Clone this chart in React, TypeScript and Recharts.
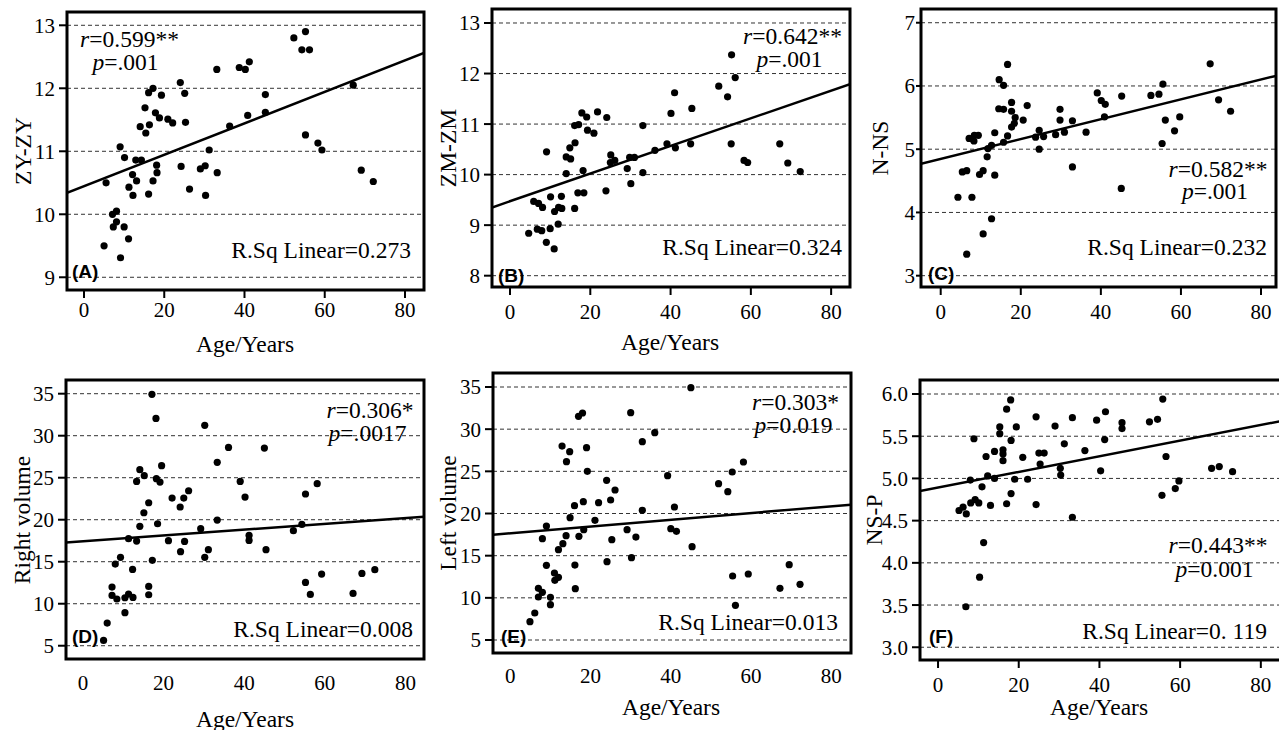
import React from 'react'
import { CartesianGrid, ReferenceArea, ReferenceLine, Scatter, ScatterChart, XAxis, YAxis } from 'recharts'

const ageTicks = [0, 20, 40, 60, 80]

// (A) ZY-ZY
const ageA = [5.5, 5.0, 7.1, 8.1, 7.3, 8.1, 10.0, 11.1, 9.1, 9.0, 10.1, 11.2, 12.2, 12.1, 12.9, 13.1, 14.3, 14.0, 15.2, 15.4, 16.1, 16.3, 16.1, 17.2, 17.2, 18.1, 18.2, 17.8, 18.8, 19.3, 20.9, 22.1, 24.0, 25.1, 25.3, 24.2, 26.3, 29.0, 30.2, 30.3, 31.2, 33.2, 33.1, 36.3, 38.7, 40.2, 41.2, 40.8, 45.2, 45.2, 52.3, 55.2, 54.3, 56.2, 55.2, 58.3, 59.3, 67.1, 69.1, 72.1]
const zyA = [10.5, 9.5, 10.0, 10.05, 9.8, 9.88, 9.8, 9.61, 9.31, 11.07, 10.9, 10.43, 10.3, 10.63, 10.86, 10.53, 10.86, 11.39, 11.69, 11.29, 11.93, 11.42, 10.32, 12.0, 10.53, 10.78, 10.66, 11.61, 11.53, 11.89, 11.51, 11.45, 12.09, 11.92, 11.46, 10.76, 10.4, 10.72, 10.77, 10.3, 11.02, 10.66, 12.3, 11.4, 12.33, 12.3, 12.42, 11.57, 11.9, 11.62, 12.8, 12.9, 12.61, 12.61, 11.26, 11.13, 11.02, 12.05, 10.7, 10.52]
const fitA = [10.34, 12.56]
const ticksA = [9, 10, 11, 12, 13]

// (B) ZM-ZM
const ageB = [4.65, 5.9, 7.1, 8.1, 6.8, 7.9, 9.1, 9.05, 10.0, 10.1, 11.0, 11.1, 12.0, 12.1, 12.9, 12.8, 14.0, 14.0, 14.9, 15.1, 16.1, 17.1, 16.2, 16.1, 16.9, 18.4, 18.2, 17.9, 19.1, 19.3, 20.9, 21.8, 24.1, 23.9, 25.1, 25.0, 26.1, 29.2, 29.8, 31.0, 30.1, 33.1, 33.1, 36.1, 39.1, 40.1, 41.0, 41.2, 45.3, 45.0, 52.0, 54.2, 55.2, 56.1, 55.1, 58.3, 59.2, 67.2, 69.2, 72.3]
const zmB = [8.84, 9.47, 9.43, 9.35, 8.92, 8.89, 10.45, 8.66, 8.93, 9.56, 8.53, 9.27, 9.02, 9.35, 9.33, 9.57, 10.02, 10.35, 10.53, 10.31, 10.97, 10.99, 10.63, 9.33, 9.64, 9.64, 10.08, 11.22, 11.14, 10.88, 10.82, 11.24, 11.13, 9.68, 10.39, 10.24, 10.28, 10.12, 10.34, 10.34, 9.82, 10.97, 10.04, 10.48, 10.61, 11.21, 11.62, 10.53, 11.31, 10.61, 11.75, 11.54, 12.37, 11.92, 10.61, 10.28, 10.24, 10.61, 10.23, 10.06]
const fitB = [9.35, 11.79]
const ticksB = [8, 9, 10, 11, 12, 13]

// (C) N-NS
const ageC = [4.3, 6.5, 5.4, 6.5, 7.8, 7.1, 7.9, 8.4, 8.3, 9.4, 9.7, 10.6, 10.6, 11.6, 11.8, 12.7, 12.7, 13.5, 13.5, 14.6, 14.5, 15.7, 15.7, 15.7, 16.7, 16.7, 17.7, 17.7, 17.7, 18.4, 18.6, 20.6, 21.6, 23.7, 24.6, 24.6, 25.7, 28.7, 29.8, 29.8, 30.9, 32.9, 32.9, 36.3, 39.1, 40.1, 41.1, 40.9, 45.2, 45.1, 52.5, 54.5, 55.5, 56.1, 55.3, 58.4, 59.7, 67.3, 69.4, 72.4]
const nnsC = [4.24, 3.34, 4.64, 4.66, 4.24, 5.17, 5.16, 5.22, 5.13, 5.22, 4.6, 4.66, 3.66, 4.88, 5.01, 5.06, 3.9, 5.26, 4.59, 6.1, 5.64, 6.01, 5.63, 5.11, 5.21, 6.34, 5.74, 5.6, 5.35, 5.41, 5.5, 5.46, 5.69, 5.19, 5.3, 5.0, 5.2, 5.23, 5.63, 5.46, 5.27, 5.45, 4.72, 5.27, 5.89, 5.77, 5.71, 5.51, 5.84, 4.38, 5.85, 5.87, 6.03, 5.46, 5.09, 5.29, 5.51, 6.35, 5.78, 5.6]
const fitC = [4.77, 6.16]
const ticksC = [3, 4, 5, 6, 7]

// (D) Right volume
const ageD = [5.1, 6.0, 7.2, 7.2, 8.4, 8.0, 9.3, 10.4, 10.4, 11.3, 11.3, 12.3, 12.4, 13.3, 13.3, 14.1, 14.1, 15.1, 15.2, 16.3, 16.3, 16.3, 17.1, 17.2, 18.1, 18.2, 19.1, 18.5, 19.5, 21.2, 22.1, 24.1, 25.0, 26.2, 24.2, 25.2, 29.2, 30.2, 30.2, 31.1, 33.3, 33.3, 36.1, 39.0, 40.2, 41.2, 41.2, 45.0, 45.4, 52.2, 54.3, 55.2, 58.1, 55.2, 56.4, 59.2, 67.0, 69.2, 72.4]
const rightD = [5.63, 7.7, 11.98, 10.99, 10.56, 14.72, 15.52, 8.93, 10.71, 11.15, 17.74, 14.08, 10.75, 24.56, 17.46, 19.21, 25.95, 20.83, 25.24, 22.02, 12.06, 11.07, 34.92, 15.16, 32.06, 24.88, 24.48, 19.52, 26.43, 17.5, 22.58, 21.51, 22.58, 23.45, 16.19, 17.42, 18.93, 31.23, 15.52, 16.43, 26.83, 19.96, 28.61, 24.56, 22.7, 18.13, 17.54, 28.53, 16.43, 18.69, 19.44, 23.06, 24.29, 12.54, 11.11, 13.53, 11.23, 13.61, 14.05]
const fitD = [17.3, 20.36]
const ticksDE = [5, 10, 15, 20, 25, 30, 35]

// (E) Left volume
const ageE = [4.9, 6.1, 7.0, 7.0, 8.0, 8.0, 9.0, 9.0, 10.0, 10.0, 11.0, 11.1, 12.0, 12.0, 13.1, 12.9, 13.9, 14.0, 14.8, 14.9, 16.0, 16.1, 16.2, 17.0, 18.0, 17.1, 18.2, 18.3, 19.0, 19.2, 21.1, 22.0, 24.0, 25.0, 26.1, 25.3, 24.1, 29.1, 30.0, 30.2, 31.3, 32.9, 32.9, 36.0, 39.2, 40.0, 41.4, 40.9, 45.0, 45.3, 51.9, 54.2, 55.3, 58.1, 55.4, 56.1, 59.3, 67.2, 69.5, 72.2]
const leftE = [7.17, 8.2, 11.13, 10.1, 10.65, 17.02, 18.52, 13.85, 10.06, 9.19, 12.94, 12.08, 12.43, 15.71, 16.42, 28.0, 17.37, 26.15, 27.33, 19.51, 20.93, 13.89, 11.09, 31.52, 31.92, 17.29, 21.4, 18.08, 27.81, 25.0, 19.19, 21.28, 23.93, 21.6, 22.79, 16.9, 14.29, 18.08, 31.96, 14.76, 17.21, 28.52, 20.38, 29.58, 24.49, 18.2, 17.89, 20.77, 34.92, 16.07, 23.54, 22.59, 24.92, 26.11, 12.59, 9.11, 12.83, 11.13, 13.93, 11.6]
const fitE = [17.49, 21.05]

// (F) NS-P
const ageF = [5.2, 6.2, 7.0, 6.9, 8.0, 8.1, 8.9, 9.2, 10.1, 10.3, 10.9, 11.3, 11.9, 12.3, 13.0, 14.0, 14.0, 15.3, 15.3, 16.1, 16.1, 16.1, 17.0, 17.0, 18.0, 18.1, 18.1, 19.4, 19.0, 21.0, 22.2, 24.3, 24.3, 25.0, 25.3, 26.3, 29.0, 30.3, 30.4, 31.3, 33.3, 33.3, 36.4, 39.3, 40.3, 41.5, 41.3, 45.6, 45.6, 52.4, 54.4, 55.7, 56.5, 55.5, 58.8, 59.7, 67.8, 69.7, 73.0]
const nspF = [4.62, 4.66, 4.58, 3.48, 4.98, 4.71, 5.47, 4.75, 4.71, 3.83, 4.9, 4.24, 5.26, 5.03, 4.68, 5.32, 5.0, 5.61, 5.53, 5.34, 5.29, 5.21, 5.82, 4.7, 5.93, 5.45, 4.82, 5.61, 4.99, 5.25, 4.99, 5.73, 4.69, 5.3, 5.17, 5.3, 5.62, 5.12, 5.04, 5.41, 5.72, 4.54, 5.33, 5.69, 5.09, 5.79, 5.46, 5.66, 5.59, 5.67, 5.7, 5.94, 5.26, 4.8, 4.88, 4.97, 5.12, 5.14, 5.08]
const fitF = [4.85, 5.68]
const ticksF = [3.0, 3.5, 4.0, 4.5, 5.0, 5.5, 6.0]

const serif = '"Liberation Serif", "Times New Roman", serif'
const sans = '"Liberation Sans", Arial, sans-serif'

const Dot = (props: any) => <circle cx={props.cx} cy={props.cy} r={3.6} fill="#000" />

type PanelProps = {
    box: number[]          // plot left, top, right, bottom
    xDomain: number[]
    yDomain: number[]
    yTicks: number[]
    ages: number[]
    values: number[]
    fit: number[]
    xMargin: number
    xTickMarks?: boolean
    yTickSize?: number
    yMargin?: number
    fmt?: (v: number) => string
}

const Panel = ({ box, xDomain, yDomain, yTicks, ages, values, fit, xMargin, xTickMarks = true, yTickSize = 8, yMargin = 4, fmt }: PanelProps) => {
    const left = box[0] - 66
    const top = box[1] - 6
    const width = box[2] - left + 6
    const height = box[3] - top + 40
    const data = ages.map((a, i) => ({ age: a, v: values[i] }))
    const tickStyle = { fill: '#000', fontSize: 21, fontFamily: serif }
    const tickLine = { stroke: '#000', strokeWidth: 2 }
    return (
        <div style={{ position: 'absolute', left, top }}>
            <ScatterChart width={width} height={height} margin={{ top: 6, right: 6, bottom: 0, left: 6 }}>
                <CartesianGrid vertical={false} stroke="#333" strokeDasharray="4 3" />
                <XAxis type="number" dataKey="age" domain={xDomain} ticks={ageTicks} interval={0} allowDataOverflow
                    height={40} axisLine={false} tickLine={xTickMarks ? tickLine : false}
                    tickSize={8} tickMargin={xMargin} tick={tickStyle} />
                <YAxis type="number" dataKey="v" domain={yDomain} ticks={yTicks} interval={0} allowDataOverflow
                    width={60} axisLine={false} tickLine={tickLine}
                    tickSize={yTickSize} tickMargin={yMargin} tick={tickStyle} tickFormatter={fmt} />
                <ReferenceArea x1={xDomain[0]} x2={xDomain[1]} y1={yDomain[0]} y2={yDomain[1]}
                    fill="none" stroke="#000" strokeWidth={3} ifOverflow="visible" />
                <ReferenceLine segment={[{ x: xDomain[0], y: fit[0] }, { x: xDomain[1], y: fit[1] }]}
                    stroke="#000" strokeWidth={2.5} ifOverflow="hidden" />
                <Scatter data={data} shape={Dot} isAnimationActive={false} />
            </ScatterChart>
        </div>
    )
}

const T = ({ x, y, anchor = 'start', size = 23.5, children }: any) => (
    <text x={x} y={y} textAnchor={anchor} fontSize={size} fontFamily={serif} fill="#000">{children}</text>
)
const Tag = ({ x, y, children }: any) => (
    <text x={x} y={y} fontSize={19} fontFamily={sans} fontWeight="bold" fill="#000">{children}</text>
)
const YTitle = ({ x, y, children }: any) => (
    <text transform={`translate(${x},${y}) rotate(-90)`} textAnchor="middle" dominantBaseline="central"
        fontSize={23.5} fontFamily={serif} fill="#000">{children}</text>
)
const I = ({ children }: any) => <tspan fontStyle="italic">{children}</tspan>

const App = () => {
    return (
        <div style={{ position: 'absolute', left: 0, top: 0, width: 1279, height: 730, overflow: 'hidden', background: '#fff' }}>
            <Panel box={[67, 12, 424, 290]} xDomain={[-4.24, 84.74]} yDomain={[8.798, 13.211]} yTicks={ticksA}
                ages={ageA} values={zyA} fit={fitA} xMargin={4} />
            <Panel box={[492, 9, 850, 287]} xDomain={[-4.49, 84.7]} yDomain={[7.776, 13.277]} yTicks={ticksB}
                ages={ageB} values={zmB} fit={fitB} xMargin={9} />
            <Panel box={[921, 9, 1276, 287]} xDomain={[-4.92, 83.74]} yDomain={[2.821, 7.217]} yTicks={ticksC}
                ages={ageC} values={nnsC} fit={fitC} xMargin={9} yTickSize={5} yMargin={1} />
            <Panel box={[66, 380, 424, 659]} xDomain={[-4.22, 84.6]} yDomain={[3.42, 36.63]} yTicks={ticksDE}
                ages={ageD} values={rightD} fit={fitD} xMargin={8} xTickMarks={false} />
            <Panel box={[493, 373, 851, 653]} xDomain={[-4.31, 84.9]} yDomain={[3.46, 36.66]} yTicks={ticksDE}
                ages={ageE} values={leftE} fit={fitE} xMargin={7} xTickMarks={false} />
            <Panel box={[920, 380, 1281, 660]} xDomain={[-4.47, 85.0]} yDomain={[2.849, 6.166]} yTicks={ticksF}
                ages={ageF} values={nspF} fit={fitF} xMargin={9} fmt={(v: number) => v.toFixed(1)} />

            <svg width={1279} height={730} style={{ position: 'absolute', left: 0, top: 0, pointerEvents: 'none' }}>
                {/* axis titles */}
                <YTitle x={23} y={151}>ZY-ZY</YTitle>
                <YTitle x={448} y={148}>ZM-ZM</YTitle>
                <YTitle x={880} y={148}>N-NS</YTitle>
                <YTitle x={22} y={520}>Right volume</YTitle>
                <YTitle x={448} y={513}>Left volume</YTitle>
                <YTitle x={874} y={520}>NS-P</YTitle>
                <T x={245} y={352} anchor="middle">Age/Years</T>
                <T x={670} y={350} anchor="middle">Age/Years</T>
                <T x={245} y={727} anchor="middle">Age/Years</T>
                <T x={671} y={715} anchor="middle">Age/Years</T>
                <T x={1099} y={715} anchor="middle">Age/Years</T>

                {/* (A) */}
                <T x={129.5} y={47} anchor="middle"><I>r</I>=0.599**</T>
                <T x={125.5} y={70} anchor="middle"><I>p</I>=.001</T>
                <T x={411} y={258} anchor="end">R.Sq Linear=0.273</T>
                <Tag x={72} y={278}>(A)</Tag>
                {/* (B) */}
                <T x={792.5} y={44} anchor="middle"><I>r</I>=0.642**</T>
                <T x={789.5} y={67} anchor="middle"><I>p</I>=.001</T>
                <T x={842} y={255} anchor="end">R.Sq Linear=0.324</T>
                <Tag x={498} y={282}>(B)</Tag>
                {/* (C) */}
                <T x={1218} y={177} anchor="middle"><I>r</I>=0.582**</T>
                <T x={1215} y={199} anchor="middle"><I>p</I>=.001</T>
                <T x={1267} y={255} anchor="end">R.Sq Linear=0.232</T>
                <Tag x={928} y={280}>(C)</Tag>
                {/* (D) */}
                <T x={370} y={418} anchor="middle"><I>r</I>=0.306*</T>
                <T x={367.5} y={441} anchor="middle"><I>p</I>=.0017</T>
                <T x={413} y={637} anchor="end">R.Sq Linear=0.008</T>
                <Tag x={72} y={643}>(D)</Tag>
                {/* (E) */}
                <T x={795.5} y={410} anchor="middle"><I>r</I>=0.303*</T>
                <T x={793.5} y={433} anchor="middle"><I>p</I>=0.019</T>
                <T x={838} y={630} anchor="end">R.Sq Linear=0.013</T>
                <Tag x={501} y={643}>(E)</Tag>
                {/* (F) */}
                <T x={1218} y={553} anchor="middle"><I>r</I>=0.443**</T>
                <T x={1214.5} y={577} anchor="middle"><I>p</I>=0.001</T>
                <T x={1267} y={639} anchor="end">R.Sq Linear=0. 119</T>
                <Tag x={929} y={643}>(F)</Tag>
            </svg>
        </div>
    )
}

export default App
